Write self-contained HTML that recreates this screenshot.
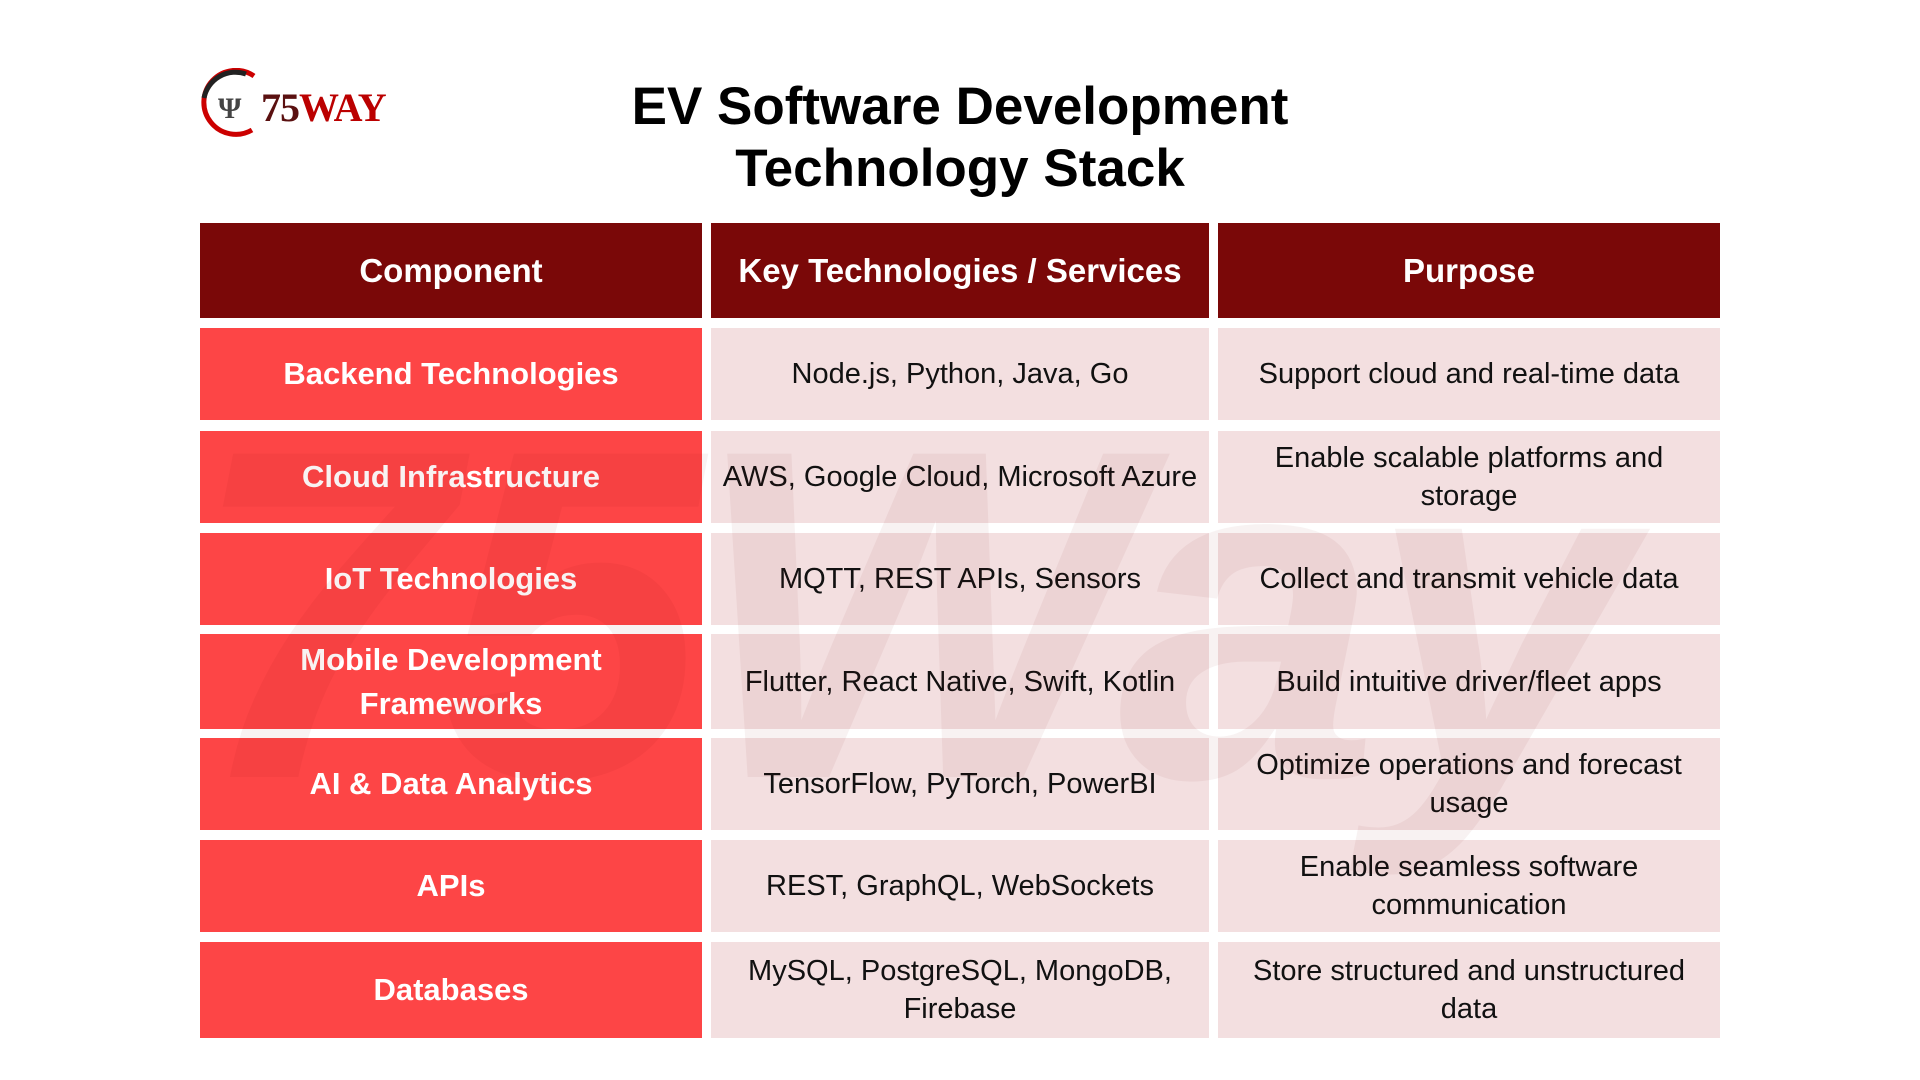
<!DOCTYPE html>
<html><head><meta charset="utf-8"><style>
body{margin:0;width:1920px;height:1080px;background:#fff;position:relative;overflow:hidden;font-family:"Liberation Sans",sans-serif}
.c{position:absolute;display:flex;align-items:center;justify-content:center;text-align:center;box-sizing:border-box;padding:0 6px;line-height:38px;white-space:nowrap}
.h{background:#7a0808;color:#fff;font-weight:bold;font-size:33px;top:223px;height:95px}
.l{background:#fd4546;color:#fff;font-weight:bold;font-size:31px;left:200px;width:502px;line-height:44px}
.v{background:#f3dfe0;color:#111;font-size:29px}
.v1{left:711px;width:498px}.v2{left:1218px;width:502px}
.title{position:absolute;left:560px;width:800px;top:76px;text-align:center;font-weight:bold;font-size:53px;line-height:62px;color:#000}
.wm{position:absolute;left:190px;top:380px;font-size:470px;font-weight:bold;font-style:italic;color:rgba(120,0,0,0.05);letter-spacing:-10px;line-height:1;z-index:5;pointer-events:none}
</style></head><body>
<svg style="position:absolute;left:196px;top:68px" width="80" height="72"><path d="M58 8 A32 32 0 1 0 56 62" fill="none" stroke="#c00" stroke-width="5"/><path d="M50 6 A32 32 0 0 0 8 30" fill="none" stroke="#222" stroke-width="5"/><text x="22" y="50" font-family="Liberation Serif" font-weight="bold" font-size="30" fill="#444">Ψ</text></svg>
<div style="position:absolute;left:261px;top:84px;font-family:'Liberation Serif',serif;font-weight:bold;font-size:40px;color:#b00;letter-spacing:-1px"><span style="color:#5a1010">75</span>WAY</div>
<div class="title">EV Software Development<br>Technology Stack</div>
<div class="c h" style="left:200px;width:502px">Component</div>
<div class="c h" style="left:711px;width:498px">Key Technologies / Services</div>
<div class="c h" style="left:1218px;width:502px">Purpose</div>

<div class="c l" style="top:328px;height:92px">Backend Technologies</div>
<div class="c v v1" style="top:328px;height:92px">Node.js, Python, Java, Go</div>
<div class="c v v2" style="top:328px;height:92px">Support cloud and real-time data</div>

<div class="c l" style="top:431px;height:92px">Cloud Infrastructure</div>
<div class="c v v1" style="top:431px;height:92px">AWS, Google Cloud, Microsoft Azure</div>
<div class="c v v2" style="top:431px;height:92px">Enable scalable platforms and<br>storage</div>

<div class="c l" style="top:533px;height:92px">IoT Technologies</div>
<div class="c v v1" style="top:533px;height:92px">MQTT, REST APIs, Sensors</div>
<div class="c v v2" style="top:533px;height:92px">Collect and transmit vehicle data</div>

<div class="c l" style="top:634px;height:95px">Mobile Development<br>Frameworks</div>
<div class="c v v1" style="top:634px;height:95px">Flutter, React Native, Swift, Kotlin</div>
<div class="c v v2" style="top:634px;height:95px">Build intuitive driver/fleet apps</div>

<div class="c l" style="top:738px;height:92px">AI &amp; Data Analytics</div>
<div class="c v v1" style="top:738px;height:92px">TensorFlow, PyTorch, PowerBI</div>
<div class="c v v2" style="top:738px;height:92px">Optimize operations and forecast<br>usage</div>

<div class="c l" style="top:840px;height:92px">APIs</div>
<div class="c v v1" style="top:840px;height:92px">REST, GraphQL, WebSockets</div>
<div class="c v v2" style="top:840px;height:92px">Enable seamless software<br>communication</div>

<div class="c l" style="top:942px;height:96px">Databases</div>
<div class="c v v1" style="top:942px;height:96px">MySQL, PostgreSQL, MongoDB,<br>Firebase</div>
<div class="c v v2" style="top:942px;height:96px">Store structured and unstructured<br>data</div>
<div class="wm">75Way</div>
</body></html>
